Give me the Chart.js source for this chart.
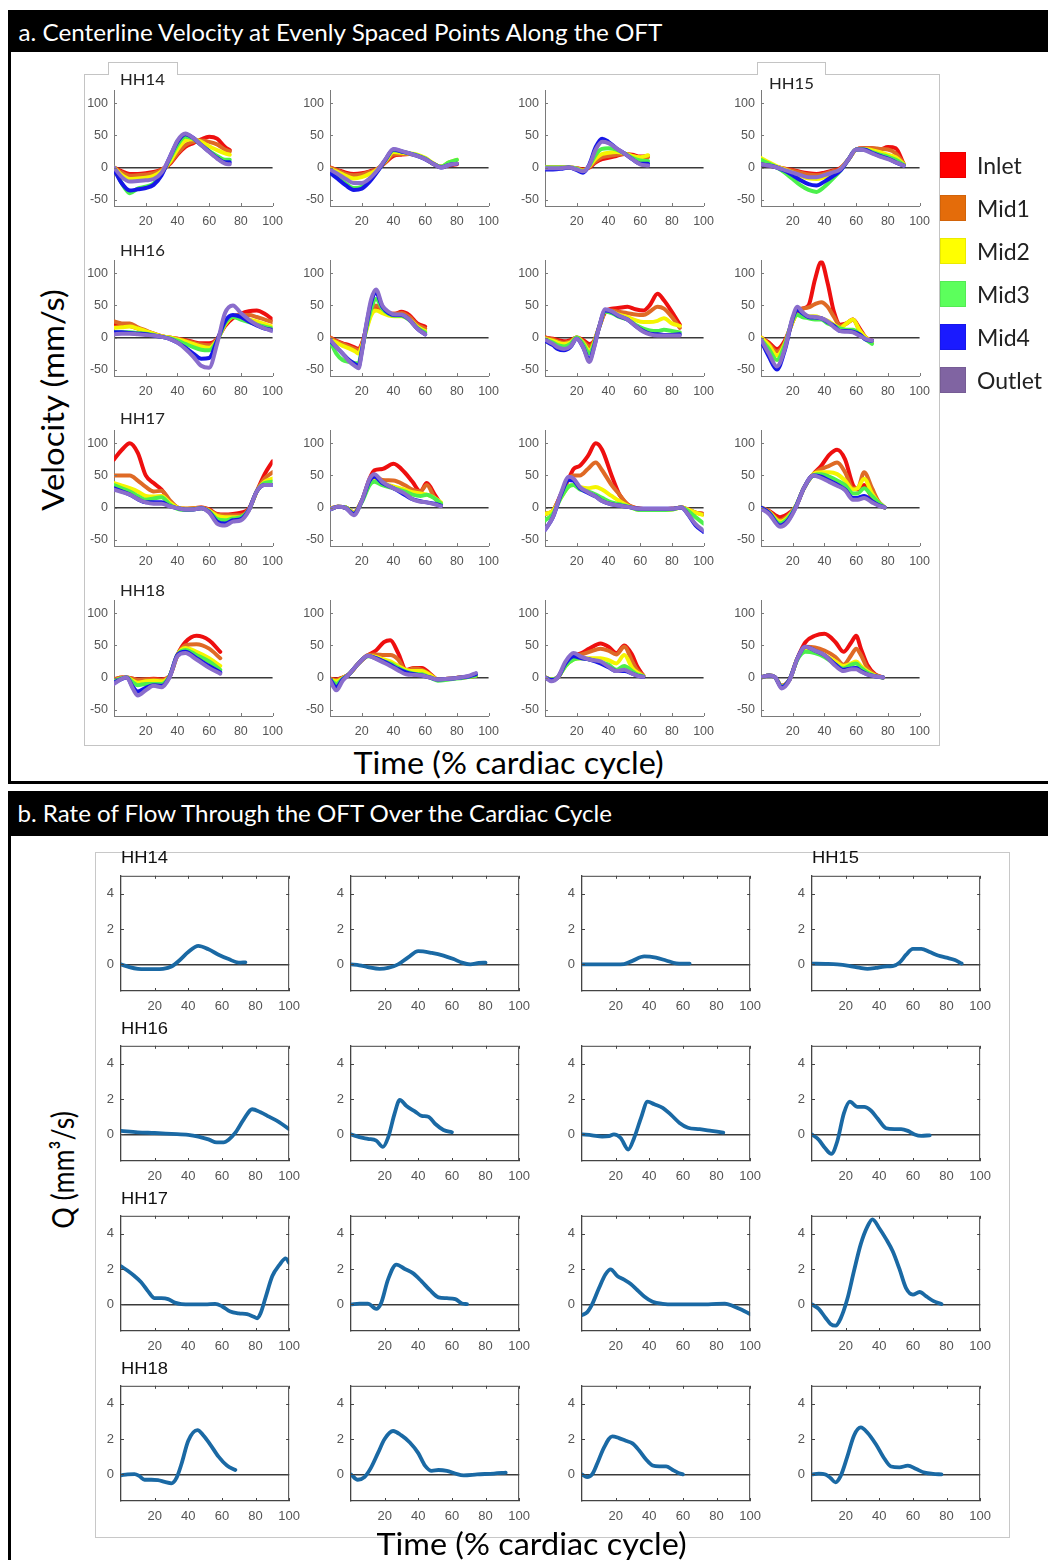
<!DOCTYPE html>
<html>
<head>
<meta charset="utf-8">
<script src="https://cdn.jsdelivr.net/npm/chart.js@4.4.1/dist/chart.umd.min.js"></script>
<style>
  html, body { margin: 0; padding: 0; background: #fff; }
  #page { position: relative; width: 1048px; height: 1560px; overflow: hidden; background: #fff; }
  .abs { position: absolute; box-sizing: border-box; }
  .txt { position: absolute; white-space: nowrap; line-height: 1; }
  canvas { position: absolute; }
</style>
</head>
<body>
<div id="page"></div>
<script>
/* =========================
   DATA
========================= */
const seriesNames = ["Inlet", "Mid1", "Mid2", "Mid3", "Mid4", "Outlet"];
const xTicks = [20, 40, 60, 80, 100];
const velTicks = [-50, 0, 50, 100];
const flowTicks = [0, 2, 4];

// a. centerline velocity (mm/s), rows = Inlet, Mid1, Mid2, Mid3, Mid4, Outlet
const velT_1_1 = [0, 5, 10, 15, 20, 25, 30, 35, 40, 45, 50, 55, 60, 65, 70, 73];
const vel_1_1 = [
  [0, -6, -10, -10, -9, -7, -3, 5, 20, 32, 38, 44, 48, 45, 32, 27],
  [0, -8, -13, -12, -11, -9, -4, 6, 22, 35, 40, 42, 40, 36, 28, 25],
  [0, -12, -18, -17, -16, -13, -6, 8, 28, 42, 44, 40, 33, 27, 22, 20],
  [0, -25, -40, -33, -30, -25, -10, 12, 35, 48, 45, 35, 26, 18, 12, 12],
  [-3, -25, -36, -34, -32, -27, -12, 15, 40, 52, 46, 35, 25, 15, 8, 8],
  [0, -15, -22, -21, -20, -18, -8, 15, 42, 53, 46, 35, 24, 14, 6, 5]
];

const velT_1_2 = [0, 5, 10, 15, 20, 25, 30, 35, 40, 45, 50, 55, 60, 65, 70, 75, 80];
const vel_1_2 = [
  [0, -4, -8, -10, -9, -6, -2, 8, 18, 20, 21, 19, 14, 6, 1, 3, 5],
  [0, -5, -10, -12, -11, -7, -2, 9, 20, 21, 21, 19, 14, 6, 1, 4, 6],
  [-2, -7, -13, -17, -15, -10, -3, 10, 24, 23, 22, 20, 15, 7, 1, 8, 12],
  [-8, -15, -25, -32, -30, -20, -5, 12, 27, 25, 22, 19, 14, 6, 1, 8, 12],
  [-8, -18, -28, -35, -33, -22, -6, 12, 28, 25, 22, 18, 13, 6, 0, 4, 6],
  [-3, -10, -18, -24, -24, -17, -4, 13, 29, 26, 22, 18, 13, 6, 0, 4, 6]
];

const velT_1_3 = [0, 5, 10, 15, 20, 24, 28, 32, 36, 40, 45, 50, 55, 60, 65];
const vel_1_3 = [
  [0, 0, 0, 0, -1, -3, 0, 8, 13, 15, 18, 21, 20, 17, 18],
  [0, 0, 0, 0, -1, -4, 1, 10, 16, 18, 20, 21, 18, 15, 16],
  [0, 0, 0, 0, -2, -5, 2, 14, 21, 23, 24, 22, 18, 16, 19],
  [0, 0, 0, 0, -2, -6, 3, 20, 29, 30, 28, 22, 15, 11, 10],
  [-3, -3, -2, 0, -4, -8, 5, 32, 45, 40, 30, 22, 13, 6, 6],
  [-1, -1, -1, 0, -3, -6, 4, 28, 40, 38, 30, 22, 13, 5, 3]
];

const velT_1_4 = [0, 5, 10, 15, 20, 25, 30, 35, 40, 45, 50, 55, 60, 65, 70, 75, 80, 85, 90];
const vel_1_4 = [
  [5, 3, 1, -2, -4, -7, -9, -10, -8, -5, -1, 12, 28, 30, 30, 28, 32, 30, 5],
  [5, 3, 1, -2, -5, -8, -11, -12, -10, -6, -2, 12, 28, 30, 30, 29, 28, 22, 6],
  [15, 8, 2, -3, -8, -13, -17, -18, -15, -10, -3, 12, 28, 29, 27, 24, 20, 16, 5],
  [12, 6, 0, -8, -18, -28, -35, -38, -30, -18, -5, 12, 28, 28, 24, 20, 17, 12, 4],
  [5, 3, 0, -5, -12, -20, -26, -28, -22, -14, -5, 12, 28, 28, 23, 18, 14, 8, 3],
  [5, 3, 0, -4, -8, -12, -15, -15, -12, -8, -3, 12, 28, 27, 22, 17, 13, 8, 3]
];

const velT_2_1 = [0, 5, 10, 15, 20, 25, 30, 35, 40, 45, 50, 55, 60, 65, 70, 75, 80, 85, 90, 95, 100];
const vel_2_1 = [
  [20, 20, 18, 14, 10, 6, 2, 0, -2, -4, -7, -9, -9, -2, 18, 30, 37, 41, 42, 37, 28],
  [25, 22, 22, 16, 11, 6, 2, 0, -2, -5, -8, -11, -12, -3, 20, 33, 35, 35, 32, 28, 24],
  [15, 16, 17, 14, 10, 6, 2, 0, -3, -6, -10, -14, -16, -4, 20, 32, 30, 28, 25, 21, 17],
  [8, 8, 8, 7, 6, 4, 1, -1, -5, -10, -15, -19, -20, -5, 22, 32, 28, 24, 20, 17, 14],
  [8, 8, 7, 6, 5, 3, 1, -2, -8, -16, -25, -33, -32, -5, 25, 35, 32, 25, 19, 14, 12],
  [5, 6, 6, 5, 4, 3, 1, -2, -8, -18, -30, -44, -47, -10, 38, 50, 38, 28, 20, 14, 10]
];

const velT_2_2 = [0, 4, 8, 12, 16, 18, 20, 23, 26, 29, 33, 37, 41, 45, 50, 55, 60];
const vel_2_2 = [
  [0, -5, -9, -12, -16, -18, -10, 15, 38, 48, 42, 37, 37, 40, 35, 22, 17],
  [0, -6, -10, -14, -18, -20, -12, 15, 40, 50, 44, 38, 37, 38, 32, 20, 14],
  [-3, -8, -13, -17, -22, -25, -14, 12, 35, 42, 38, 34, 33, 33, 28, 17, 10],
  [-5, -25, -35, -38, -40, -40, -20, 15, 45, 60, 45, 37, 34, 34, 27, 15, 8],
  [-5, -15, -25, -35, -42, -45, -22, 20, 55, 70, 48, 38, 35, 35, 28, 14, 5],
  [-3, -15, -25, -37, -45, -48, -25, 22, 60, 75, 50, 40, 36, 36, 28, 14, 5]
];

const velT_2_3 = [0, 5, 8, 12, 16, 20, 24, 28, 31, 34, 38, 42, 46, 52, 57, 62, 66, 71, 75, 80, 85];
const vel_2_3 = [
  [0, -2, -4, -6, -4, 0, -4, -10, -5, 15, 40, 45, 46, 48, 44, 42, 50, 68, 58, 40, 20],
  [0, -3, -6, -8, -6, 0, -6, -14, -6, 15, 40, 42, 40, 38, 36, 35, 40, 48, 45, 32, 15],
  [-2, -5, -8, -10, -8, 0, -8, -20, -8, 15, 40, 40, 36, 32, 27, 24, 24, 26, 30, 22, 18],
  [-3, -8, -12, -14, -10, 0, -10, -25, -10, 15, 40, 38, 33, 28, 20, 14, 11, 10, 12, 10, 8],
  [-5, -12, -18, -20, -15, -2, -15, -35, -14, 15, 42, 40, 34, 28, 18, 10, 6, 5, 4, 4, 5],
  [-3, -10, -15, -18, -14, -2, -15, -38, -16, 15, 44, 41, 35, 28, 18, 9, 5, 3, 3, 3, 3]
];

const velT_2_4 = [0, 5, 10, 15, 20, 23, 26, 30, 34, 38, 42, 46, 50, 54, 58, 62, 66, 70];
const vel_2_4 = [
  [0, -8, -18, -5, 25, 40, 45, 50, 90, 118, 85, 40, 20, 22, 28, 15, 0, -5],
  [0, -10, -22, -8, 25, 42, 45, 47, 52, 55, 48, 32, 18, 22, 28, 12, 0, -5],
  [0, -12, -28, -10, 25, 35, 35, 33, 33, 30, 26, 20, 15, 22, 28, 12, 0, -7],
  [-3, -18, -35, -12, 28, 35, 32, 30, 28, 28, 22, 18, 14, 12, 12, 5, -3, -10],
  [-5, -30, -50, -20, 30, 43, 38, 32, 31, 30, 24, 18, 10, 10, 9, 5, -3, -5],
  [-3, -25, -45, -18, 32, 48, 40, 33, 32, 30, 25, 16, 10, 9, 8, 3, -2, -5]
];

const velT_3_1 = [0, 5, 10, 15, 20, 25, 30, 35, 40, 45, 50, 55, 60, 65, 70, 75, 80, 85, 90, 95, 100];
const vel_3_1 = [
  [75, 90, 100, 85, 50, 38, 28, 10, 0, -2, -1, 0, -3, -10, -11, -10, -8, -2, 25, 52, 72],
  [50, 50, 50, 42, 32, 25, 26, 12, 0, -2, -1, 0, -4, -11, -12, -12, -12, -3, 25, 45, 55],
  [38, 34, 30, 25, 18, 17, 18, 8, 0, -2, -2, -1, -5, -13, -15, -15, -15, -4, 25, 40, 45],
  [35, 30, 25, 18, 12, 14, 16, 5, -2, -4, -3, -1, -6, -18, -20, -17, -15, -4, 25, 38, 40],
  [30, 25, 20, 13, 8, 8, 8, 2, -1, -3, -3, -1, -7, -22, -25, -20, -18, -4, 25, 35, 35],
  [28, 24, 20, 13, 8, 6, 6, 2, -1, -3, -3, -1, -8, -25, -28, -22, -20, -5, 25, 35, 35]
];

const velT_3_2 = [0, 5, 10, 15, 20, 25, 28, 33, 40, 47, 52, 57, 61, 66, 70];
const vel_3_2 = [
  [-2, 1, 0, -8, 10, 45, 58, 60, 68, 55, 40, 25, 38, 20, 5],
  [-2, 1, 0, -8, 10, 42, 50, 43, 42, 35, 28, 25, 35, 15, 5],
  [-2, 1, 0, -8, 10, 38, 45, 38, 33, 28, 24, 22, 20, 15, 8],
  [-3, 1, 0, -10, 8, 35, 40, 35, 30, 25, 20, 18, 20, 14, 6],
  [-3, 1, -1, -10, 10, 42, 48, 38, 30, 20, 13, 10, 8, 6, 3],
  [-3, 1, -1, -12, 10, 45, 52, 40, 30, 22, 13, 9, 8, 5, 2]
];

const velT_3_3 = [0, 5, 10, 15, 18, 22, 27, 32, 36, 42, 47, 52, 60, 70, 80, 86, 90, 95, 100];
const vel_3_3 = [
  [-10, -5, 20, 45, 60, 65, 80, 100, 90, 50, 20, 5, -2, -3, -2, 0, -3, -8, -10],
  [-10, -5, 20, 45, 50, 50, 60, 70, 58, 35, 20, 5, -2, -3, -2, 0, -3, -8, -10],
  [-10, -5, 15, 33, 35, 32, 30, 32, 28, 18, 10, 3, -4, -4, -3, 0, -3, -8, -12],
  [-20, -10, 15, 33, 35, 28, 25, 20, 15, 8, 5, 2, -4, -4, -3, 0, -5, -15, -25],
  [-35, -15, 20, 43, 42, 30, 23, 17, 10, 5, 3, 1, -2, -2, -2, 0, -10, -28, -38],
  [-35, -15, 22, 48, 45, 32, 24, 17, 10, 5, 3, 1, -2, -2, -2, 0, -10, -26, -36]
];

const velT_3_4 = [0, 5, 12, 17, 22, 27, 33, 38, 43, 48, 53, 58, 61, 65, 70, 74, 78];
const vel_3_4 = [
  [0, -5, -15, -10, 2, 30, 52, 65, 82, 90, 75, 35, 28, 35, 15, 5, 0],
  [0, -6, -20, -13, 2, 30, 52, 60, 65, 70, 55, 30, 30, 55, 30, 10, 0],
  [0, -7, -22, -15, 2, 30, 52, 55, 55, 52, 42, 28, 30, 45, 22, 8, 0],
  [0, -8, -25, -17, 2, 30, 50, 52, 48, 42, 35, 22, 22, 30, 18, 8, 0],
  [0, -8, -28, -20, 1, 30, 50, 48, 42, 36, 28, 15, 15, 18, 10, 4, 0],
  [-2, -10, -30, -22, 0, 30, 50, 46, 40, 34, 27, 12, 12, 15, 8, 3, 0]
];

const velT_4_1 = [0, 5, 8, 12, 15, 20, 25, 30, 35, 40, 45, 52, 60, 67];
const vel_4_1 = [
  [-3, 0, 0, -2, -3, -3, -2, -3, 2, 35, 55, 65, 58, 40],
  [-3, 0, 0, -2, -4, -3, -3, -4, 2, 35, 50, 52, 45, 30],
  [-5, -1, 0, -5, -8, -6, -5, -6, 2, 35, 46, 40, 30, 18],
  [-5, -1, 0, -8, -12, -10, -10, -10, 2, 35, 43, 35, 25, 12],
  [-8, -2, 0, -15, -22, -16, -12, -13, 1, 35, 40, 30, 18, 8],
  [-10, -2, 0, -18, -28, -20, -13, -15, 0, 33, 38, 28, 15, 6]
];

const velT_4_2 = [0, 4, 8, 12, 18, 24, 29, 34, 38, 43, 48, 53, 58, 63, 68, 75, 82, 88, 92];
const vel_4_2 = [
  [-2, -3, 0, 5, 22, 35, 42, 55, 58, 38, 12, 15, 15, 6, -3, -2, 0, 1, 3],
  [-2, -4, 0, 5, 22, 35, 36, 35, 35, 28, 10, 14, 12, 5, -3, -2, 0, 1, 3],
  [-3, -6, -1, 5, 22, 34, 32, 28, 25, 18, 12, 10, 10, 4, -3, -2, 0, 1, 3],
  [-3, -10, -2, 5, 22, 33, 30, 25, 22, 15, 9, 6, 5, 0, -5, -3, -1, 1, 3],
  [-3, -15, -3, 5, 22, 34, 30, 25, 20, 13, 8, 5, 3, 0, -3, -2, 0, 2, 5],
  [-5, -20, -5, 5, 22, 34, 29, 23, 18, 11, 5, 4, 3, 0, -3, -2, 0, 3, 7]
];

const velT_4_3 = [0, 4, 8, 13, 18, 23, 28, 35, 40, 45, 50, 55, 58, 62];
const vel_4_3 = [
  [0, -3, 0, 20, 33, 38, 45, 53, 48, 38, 50, 35, 18, 3],
  [0, -3, 0, 20, 32, 36, 40, 45, 42, 36, 48, 25, 12, 3],
  [0, -3, 0, 18, 28, 30, 30, 30, 27, 22, 35, 15, 8, 2],
  [0, -3, 0, 18, 28, 30, 28, 24, 20, 12, 18, 10, 5, 2],
  [0, -4, 0, 22, 33, 30, 28, 22, 16, 10, 10, 6, 3, 1],
  [0, -6, 0, 25, 38, 32, 28, 25, 17, 10, 12, 6, 3, 1]
];

const velT_4_4 = [0, 5, 9, 13, 18, 23, 28, 34, 40, 47, 52, 57, 60, 63, 67, 72, 77];
const vel_4_4 = [
  [0, 3, 0, -13, -3, 30, 55, 65, 68, 55, 40, 55, 65, 45, 20, 5, 0],
  [0, 3, 0, -13, -3, 30, 48, 47, 42, 32, 20, 35, 45, 35, 15, 4, 0],
  [0, 3, 0, -14, -3, 30, 45, 42, 35, 25, 18, 22, 25, 18, 10, 3, 0],
  [0, 3, 0, -14, -3, 28, 40, 38, 32, 20, 14, 20, 22, 15, 8, 2, 0],
  [0, 3, 0, -15, -3, 30, 48, 42, 35, 20, 12, 14, 15, 10, 5, 2, 0],
  [0, 3, 0, -17, -4, 30, 48, 42, 35, 18, 10, 13, 13, 9, 5, 2, 0]
];

// b. rate of flow Q (mm^3/s)
const flowT_1_1 = [0, 5, 10, 15, 20, 25, 30, 35, 40, 46, 52, 58, 64, 70, 74];
const flow_1_1 = [0, -0.15, -0.25, -0.27, -0.27, -0.25, -0.12, 0.25, 0.7, 1.05, 0.85, 0.55, 0.3, 0.1, 0.12];
const flowT_1_2 = [0, 5, 10, 17, 22, 28, 34, 40, 48, 55, 61, 66, 71, 76, 80];
const flow_1_2 = [0, -0.05, -0.15, -0.25, -0.2, 0, 0.4, 0.75, 0.65, 0.5, 0.3, 0.1, 0, 0.08, 0.1];
const flowT_1_3 = [0, 10, 20, 25, 30, 37, 44, 50, 56, 60, 64];
const flow_1_3 = [0, 0, 0, 0.02, 0.2, 0.45, 0.38, 0.22, 0.06, 0.04, 0.05];
const flowT_1_4 = [0, 8, 15, 22, 28, 33, 38, 43, 48, 52, 56, 60, 65, 70, 75, 80, 85, 89];
const flow_1_4 = [0.05, 0.03, 0, -0.08, -0.18, -0.25, -0.2, -0.12, -0.1, 0.1, 0.55, 0.88, 0.88, 0.7, 0.5, 0.38, 0.25, 0.05];

const flowT_2_1 = [0, 10, 20, 30, 40, 46, 52, 57, 61, 64, 68, 73, 78, 83, 88, 94, 100];
const flow_2_1 = [0.2, 0.12, 0.08, 0.03, -0.02, -0.12, -0.28, -0.45, -0.45, -0.3, 0.1, 0.85, 1.42, 1.25, 1.0, 0.7, 0.3];
const flowT_2_2 = [0, 5, 10, 15, 19, 22, 26, 29, 33, 38, 42, 46, 50, 55, 60];
const flow_2_2 = [0, -0.15, -0.25, -0.35, -0.7, -0.2, 1.2, 1.95, 1.6, 1.3, 1.05, 1.0, 0.6, 0.25, 0.12];
const flowT_2_3 = [0, 6, 12, 16, 19, 23, 27.5, 31, 35, 39, 43, 48, 53, 58, 63, 70, 77, 84];
const flow_2_3 = [0, -0.05, -0.12, -0.1, 0, -0.2, -0.85, -0.2, 0.9, 1.85, 1.7, 1.5, 1.1, 0.65, 0.38, 0.3, 0.2, 0.1];
const flowT_2_4 = [0, 4, 8, 11.5, 15, 19, 22.5, 27, 31, 35, 39, 44, 49, 53, 57, 61, 65, 70];
const flow_2_4 = [0, -0.3, -0.8, -1.1, -0.4, 1.2, 1.85, 1.55, 1.55, 1.35, 0.9, 0.35, 0.3, 0.3, 0.2, 0, -0.08, -0.05];

const flowT_3_1 = [0, 4, 8, 12, 16, 20, 24, 28, 32, 36, 42, 50, 56, 60, 65, 70, 75, 79, 81, 83, 86, 90, 94, 98, 100];
const flow_3_1 = [2.15, 1.9, 1.6, 1.25, 0.75, 0.35, 0.35, 0.3, 0.1, 0.02, 0, 0, 0.03, -0.1, -0.4, -0.5, -0.55, -0.7, -0.78, -0.5, 0.4, 1.6, 2.2, 2.6, 2.35];
const flowT_3_2 = [0, 5, 10, 15, 18, 22, 27, 32, 37, 42, 47, 52, 57, 62, 66, 69];
const flow_3_2 = [0, 0.05, 0.05, -0.25, 0.1, 1.4, 2.25, 2.0, 1.75, 1.3, 0.8, 0.4, 0.35, 0.3, 0.05, 0.02];
const flowT_3_3 = [0, 3, 6, 10, 14, 17, 21, 25, 29, 33, 37, 42, 48, 55, 65, 75, 85, 90, 95, 100];
const flow_3_3 = [-0.6, -0.45, 0, 0.9, 1.7, 1.98, 1.6, 1.4, 1.15, 0.8, 0.45, 0.15, 0.03, 0, 0, 0, 0.05, -0.1, -0.3, -0.55];
const flowT_3_4 = [0, 4, 8, 11, 14, 17, 21, 25, 29, 33, 36, 40, 44, 48, 52, 56, 60, 64, 68, 72, 77];
const flow_3_4 = [0, -0.25, -0.75, -1.1, -1.2, -0.8, 0.3, 1.9, 3.4, 4.4, 4.8, 4.3, 3.7, 3.0, 2.0, 0.9, 0.55, 0.7, 0.45, 0.2, 0.02];

const flowT_4_1 = [0, 4, 8, 11, 14, 18, 22, 26, 30, 33, 36, 40, 45.5, 49, 53, 58, 63, 68];
const flow_4_1 = [-0.05, 0, 0.02, -0.1, -0.3, -0.3, -0.32, -0.42, -0.5, -0.2, 0.6, 1.9, 2.5, 2.2, 1.7, 1.0, 0.5, 0.25];
const flowT_4_2 = [0, 4, 8, 12, 16, 20, 25, 30, 35, 40, 44, 48, 52, 57, 62, 67, 75, 85, 92];
const flow_4_2 = [0, -0.3, -0.15, 0.4, 1.2, 2.0, 2.45, 2.2, 1.8, 1.2, 0.5, 0.2, 0.25, 0.2, 0.05, -0.05, 0, 0.05, 0.1];
const flowT_4_3 = [0, 3, 6, 9, 13, 18, 22, 26, 30, 34, 38, 42, 46, 50, 54, 57, 60];
const flow_4_3 = [0, -0.15, 0, 0.6, 1.5, 2.15, 2.05, 1.9, 1.75, 1.35, 0.85, 0.5, 0.45, 0.45, 0.25, 0.1, 0];
const flowT_4_4 = [0, 4, 8, 11, 14, 17, 21, 25, 29, 33, 38, 43, 47, 52, 57, 62, 67, 72, 77];
const flow_4_4 = [0, 0.05, 0, -0.2, -0.45, -0.1, 1.0, 2.2, 2.65, 2.35, 1.7, 0.9, 0.45, 0.4, 0.5, 0.3, 0.1, 0.03, 0];

const velPlots = [
  [velT_1_1, vel_1_1], [velT_1_2, vel_1_2], [velT_1_3, vel_1_3], [velT_1_4, vel_1_4],
  [velT_2_1, vel_2_1], [velT_2_2, vel_2_2], [velT_2_3, vel_2_3], [velT_2_4, vel_2_4],
  [velT_3_1, vel_3_1], [velT_3_2, vel_3_2], [velT_3_3, vel_3_3], [velT_3_4, vel_3_4],
  [velT_4_1, vel_4_1], [velT_4_2, vel_4_2], [velT_4_3, vel_4_3], [velT_4_4, vel_4_4]
];
const flowPlots = [
  [flowT_1_1, flow_1_1], [flowT_1_2, flow_1_2], [flowT_1_3, flow_1_3], [flowT_1_4, flow_1_4],
  [flowT_2_1, flow_2_1], [flowT_2_2, flow_2_2], [flowT_2_3, flow_2_3], [flowT_2_4, flow_2_4],
  [flowT_3_1, flow_3_1], [flowT_3_2, flow_3_2], [flowT_3_3, flow_3_3], [flowT_3_4, flow_3_4],
  [flowT_4_1, flow_4_1], [flowT_4_2, flow_4_2], [flowT_4_3, flow_4_3], [flowT_4_4, flow_4_4]
];

/* =========================
   STYLE
========================= */
const lineColors = ["#ee0f0f", "#df6a25", "#f5f500", "#4cf04c", "#1616e8", "#8a6dcc"];
const legendColors = ["#ff0000", "#e46c0a", "#ffff00", "#5cff5c", "#1a1aff", "#8064a2"];
const flowColor = "#1a69a4";
const titleFont = "Lato, 'Open Sans', sans-serif";

const page = document.getElementById("page");

function rect(x, y, w, h, style) {
  const d = document.createElement("div");
  d.className = "abs";
  Object.assign(d.style, { left: x + "px", top: y + "px", width: w + "px", height: h + "px" }, style || {});
  page.appendChild(d);
  return d;
}

// text centred on (cx, cy), squeezed or stretched to a target width
function label(text, cx, cy, o) {
  const d = document.createElement("div");
  d.className = "txt";
  d.textContent = text;
  d.style.font = (o.weight || 400) + " " + o.size + "px " + (o.family || titleFont);
  d.style.color = o.color || "#000";
  page.appendChild(d);
  const w = d.offsetWidth, h = d.offsetHeight;
  const k = o.width ? o.width / w : 1;
  d.style.left = (cx - w / 2) + "px";
  d.style.top = (cy - h / 2) + "px";
  d.style.transform = (o.rotate ? "rotate(-90deg) " : "") + "scaleX(" + k + ")";
  return d;
}

/* =========================
   FRAMES
========================= */
// panel a
rect(8, 10, 1045, 42, { background: "#000" });
rect(8, 10, 3, 774, { background: "#000" });
rect(8, 781, 1045, 3, { background: "#000" });
label("a. Centerline Velocity at Evenly Spaced Points Along the OFT", 18 + 322, 32, { size: 23, color: "#fff", width: 644 });
rect(84, 74, 856, 672, { border: "1px solid #c4c4c4" });
rect(108, 62, 70, 13, { border: "1px solid #c4c4c4", borderBottom: "none", background: "#fff" });
rect(757, 62, 69, 13, { border: "1px solid #c4c4c4", borderBottom: "none", background: "#fff" });

// panel b
rect(8, 791, 1045, 45, { background: "#000" });
rect(8, 791, 3, 775, { background: "#000" });
label("b. Rate of Flow Through the OFT Over the Cardiac Cycle", 18 + 297, 813, { size: 23, color: "#fff", width: 595 });
rect(95, 852, 915, 686, { border: "1px solid #c8c8c8" });

/* =========================
   PLUGIN: box + inward ticks
========================= */
const inTicks = {
  id: "inTicks",
  afterDraw(chart, args, opts) {
    const { ctx, chartArea: a, scales: { x, y } } = chart;
    ctx.save();
    ctx.strokeStyle = opts.color;
    ctx.lineWidth = 1;
    ctx.beginPath();
    if (opts.box) {
      ctx.moveTo(a.left, a.top + 0.5);
      ctx.lineTo(a.right - 0.5, a.top + 0.5);
      ctx.lineTo(a.right - 0.5, a.bottom);
    }
    xTicks.forEach(v => {
      const px = Math.round(x.getPixelForValue(v)) + 0.5;
      ctx.moveTo(px, a.bottom); ctx.lineTo(px, a.bottom - 3);
      if (opts.box) { ctx.moveTo(px, a.top); ctx.lineTo(px, a.top + 3); }
    });
    opts.yTicks.forEach(v => {
      const py = Math.round(y.getPixelForValue(v)) + 0.5;
      ctx.moveTo(a.left, py); ctx.lineTo(a.left + 3, py);
      if (opts.box) { ctx.moveTo(a.right, py); ctx.lineTo(a.right - 3, py); }
    });
    ctx.stroke();
    ctx.restore();
  }
};

function makePlot(left, top, w, h, datasets, yMin, yMax, yTickVals, boxed) {
  const padL = 40, padT = 8, padR = 16, padB = 26;
  const cv = document.createElement("canvas");
  cv.width = Math.round(padL + w + padR);
  cv.height = Math.round(padT + h + padB);
  cv.style.left = Math.round(left - padL) + "px";
  cv.style.top = Math.round(top - padT) + "px";
  page.appendChild(cv);
  const tickFont = boxed
    ? { family: "'Liberation Sans Narrow', 'Liberation Sans', Arial, sans-serif", size: 13 }
    : { family: "'Liberation Sans', Arial, sans-serif", size: 12.5 };
  const axisColor = boxed ? "#444" : "#7a7a7a";
  new Chart(cv, {
    type: "line",
    data: { datasets },
    options: {
      responsive: false,
      animation: false,
      events: [],
      devicePixelRatio: 1,
      layout: { padding: { left: 0, top: padT, right: padR, bottom: 0 } },
      plugins: {
        legend: { display: false },
        tooltip: { enabled: false },
        inTicks: { box: boxed, color: axisColor, yTicks: yTickVals }
      },
      scales: {
        x: {
          type: "linear", min: 0, max: 100,
          afterBuildTicks: s => { s.ticks = xTicks.map(v => ({ value: v })); },
          afterFit: s => { s.height = padB; },
          ticks: { font: tickFont, color: "#555", padding: 8, maxRotation: 0, autoSkip: false },
          grid: { display: false, drawTicks: false },
          border: { display: true, color: axisColor, width: boxed ? 1.3 : 1 }
        },
        y: {
          type: "linear", min: yMin, max: yMax,
          afterBuildTicks: s => { s.ticks = yTickVals.map(v => ({ value: v })); },
          afterFit: s => { s.width = padL; },
          ticks: { font: tickFont, color: "#555", padding: boxed ? 7 : 6, autoSkip: false },
          grid: {
            color: c => (c.tick && c.tick.value === 0) ? "#3a3a3a" : "rgba(0,0,0,0)",
            lineWidth: 1.6,
            drawTicks: false
          },
          border: { display: true, color: axisColor, width: boxed ? 1.3 : 1 }
        }
      }
    },
    plugins: [inTicks]
  });
}

function velDatasets(t, rows) {
  return rows.map((vals, i) => {
    if (vals.length !== t.length) throw new Error("length mismatch in " + seriesNames[i]);
    return {
      label: seriesNames[i],
      data: t.map((x, j) => ({ x: x, y: vals[j] })),
      borderColor: lineColors[i],
      borderWidth: 4,
      pointRadius: 0,
      fill: false,
      cubicInterpolationMode: "monotone",
      borderCapStyle: "round",
      borderJoinStyle: "round",
      order: rows.length - 1 - i
    };
  });
}

function flowDatasets(t, vals) {
  if (vals.length !== t.length) throw new Error("length mismatch in flow");
  return [{
    label: "Q",
    data: t.map((x, j) => ({ x: x, y: vals[j] })),
    borderColor: flowColor,
    borderWidth: 3.8,
    pointRadius: 0,
    fill: false,
    cubicInterpolationMode: "monotone",
    borderCapStyle: "round",
    borderJoinStyle: "round"
  }];
}

/* =========================
   PANEL A
========================= */
velPlots.forEach(([t, rows], k) => {
  const r = Math.floor(k / 4), c = k % 4;
  makePlot(114 + 215.6 * c, 84.5 + 170 * r, 161, 121, velDatasets(t, rows), -60, 120, velTicks, false);
});

[["HH14", 142, 78], ["HH16", 142, 249], ["HH17", 142, 417], ["HH18", 142, 589], ["HH15", 791, 82]]
  .forEach(([s, x, y]) => label(s, x, y, { size: 16, color: "#222", width: 45 }));

label("Velocity (mm/s)", 52, 400, { size: 30, color: "#000", width: 222, rotate: true });
label("Time (% cardiac cycle)", 508, 762, { size: 30, color: "#000", width: 310 });

// legend
seriesNames.forEach((n, i) => {
  const cy = 165 + 43 * i;
  rect(940, cy - 13, 26, 26, { background: legendColors[i], border: "1px solid rgba(0,0,0,0.08)" });
  const d = document.createElement("div");
  d.className = "txt";
  d.textContent = n;
  d.style.font = "400 23px " + titleFont;
  d.style.color = "#222";
  d.style.left = "977px";
  page.appendChild(d);
  d.style.top = (cy - d.offsetHeight / 2) + "px";
});

/* =========================
   PANEL B
========================= */
flowPlots.forEach(([t, vals], k) => {
  const r = Math.floor(k / 4), c = k % 4;
  makePlot(121 + 230.3 * c, 869 + 170 * r, 171, 122, flowDatasets(t, vals), -1.5, 5, flowTicks, true);
});

[["HH14", 144, 858], ["HH15", 835, 858], ["HH16", 144, 1029], ["HH17", 144, 1199], ["HH18", 144, 1369]]
  .forEach(([s, x, y]) => label(s, x, y, { size: 16, color: "#111", width: 47, family: "'Liberation Sans Narrow', 'Liberation Sans', sans-serif" }));

label("Q (mm³/s)", 62, 1170, { size: 30, color: "#000", width: 118, rotate: true });
label("Time (% cardiac cycle)", 531, 1543, { size: 30, color: "#000", width: 310 });
</script>
</body>
</html>
